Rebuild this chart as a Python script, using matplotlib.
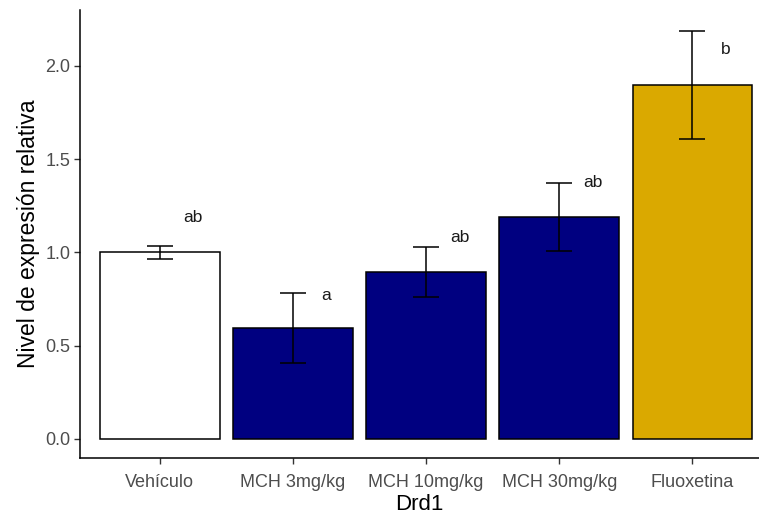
import matplotlib
matplotlib.use("Agg")
import matplotlib.pyplot as plt
import numpy as np

plt.rcParams['font.family'] = ['Liberation Sans', 'DejaVu Sans']

grupos = ['Vehículo', 'MCH 3mg/kg', 'MCH 10mg/kg', 'MCH 30mg/kg', 'Fluoxetina']
medias = [1.0, 0.595, 0.895, 1.19, 1.9]
errores = [0.035, 0.185, 0.135, 0.18, 0.29]
colores = ['white', '#000080', '#000080', '#000080', '#DAA900']
letras = ['ab', 'a', 'ab', 'ab', 'b']
letras_y = [1.19, 0.77, 1.08, 1.375, 2.09]

fig = plt.figure(figsize=(7.59, 5.17), dpi=100)
ax = fig.add_axes([80/759, 59/517, 679/759, 448/517])

x = np.arange(1, len(grupos) + 1)
ax.bar(x, medias, width=0.9, color=colores, edgecolor='black', linewidth=1.1)
ax.errorbar(x, medias, yerr=errores, fmt='none', ecolor='black',
            elinewidth=1.1, capsize=9.7, capthick=1.1)
for xi, l, yl in zip(x, letras, letras_y):
    ax.text(xi + 0.25, yl, l, ha='center', va='center', fontsize=12.5, color='#1a1a1a')

ax.set_xlim(0.4, 5.5)
ax.set_ylim(-0.102, 2.30)
ax.set_xticks(x)
ax.set_xticklabels(grupos)
ax.set_yticks([0.0, 0.5, 1.0, 1.5, 2.0])
ax.set_yticklabels(['0.0', '0.5', '1.0', '1.5', '2.0'])
ax.tick_params(colors='#333333', length=4, width=1, labelsize=13, labelcolor='#4D4D4D', pad=3)
ax.tick_params(axis='x', pad=7.5)
ax.spines['top'].set_visible(False)
ax.spines['right'].set_visible(False)
for s in ['left', 'bottom']:
    ax.spines[s].set_linewidth(1.1)
ax.set_xlabel('Drd1', fontsize=16, labelpad=2)
ax.set_ylabel('Nivel de expresión relativa', fontsize=16.5, labelpad=4)

fig.savefig('out.png', dpi=100)
